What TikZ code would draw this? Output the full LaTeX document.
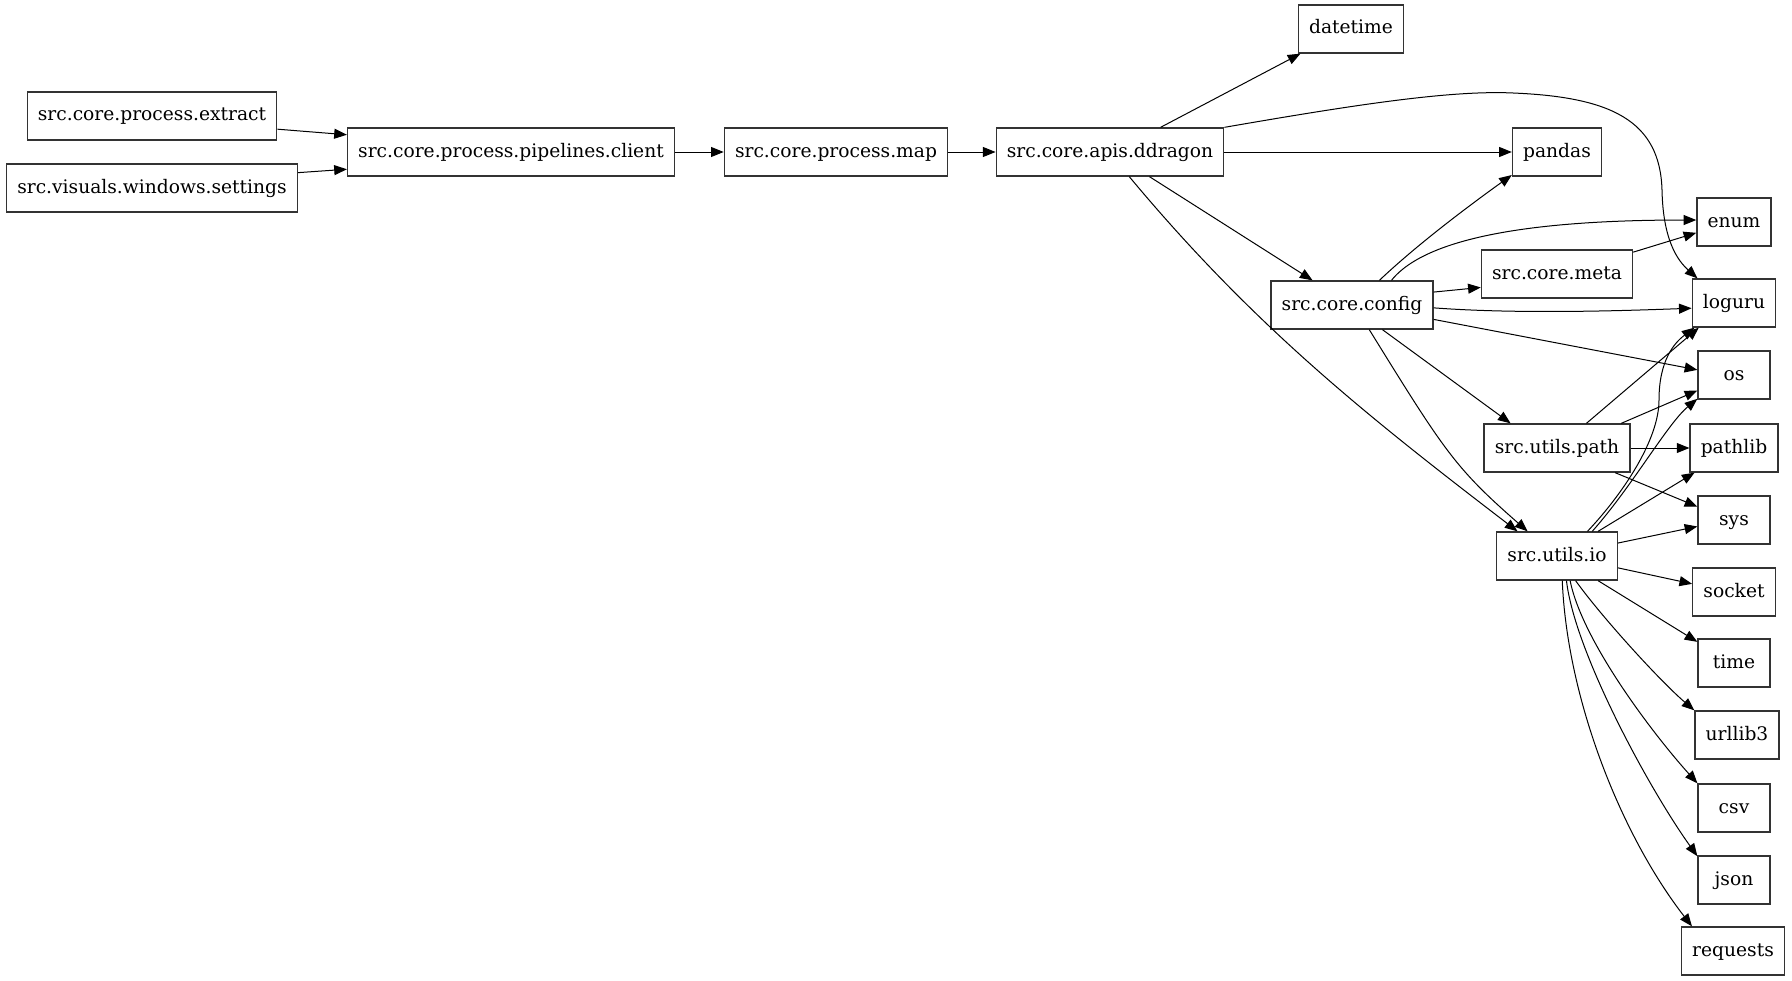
\documentclass[tikz,border=0pt]{standalone}
\usepackage{fontspec}
\setmainfont{DejaVu Serif}
\usetikzlibrary{arrows.meta}

\begin{document}
\begin{tikzpicture}[x=0.75pt,y=-0.75pt,
            mod/.style={draw=black!80, line width=1pt, minimum height=36pt, minimum width=54pt,
                inner xsep=8pt, inner ysep=0pt, text height=10pt, text depth=2.5pt,
                font=\fontsize{14pt}{17pt}\selectfont},
            dep/.style={-{Triangle[length=9.5pt,width=7.5pt]}, line width=0.75pt}]
            \useasboundingbox (0,0) rectangle (1792,981);

            \node[mod] (extract) at (152,116) {src.core.process.extract};
            \node[mod] (settings) at (152,188) {src.visuals.windows.settings};
            \node[mod] (client) at (511,152) {src.core.process.pipelines.client};
            \node[mod] (pmap) at (836,152) {src.core.process.map};
            \node[mod] (ddragon) at (1110,152) {src.core.apis.ddragon};
            \node[mod] (datetime) at (1351,29) {datetime};
            \node[mod] (pandas) at (1557,152) {pandas};
            \node[mod] (config) at (1352,305) {src.core.config};
            \node[mod] (meta) at (1557,274) {src.core.meta};
            \node[mod] (upath) at (1557,448) {src.utils.path};
            \node[mod] (uio) at (1557,556) {src.utils.io};
            \node[mod] (enum) at (1734,222) {enum};
            \node[mod] (loguru) at (1734,303) {loguru};
            \node[mod] (os) at (1734,375) {os};
            \node[mod] (pathlib) at (1734,448) {pathlib};
            \node[mod] (sys) at (1734,520) {sys};
            \node[mod] (socket) at (1734,592) {socket};
            \node[mod] (time) at (1734,663) {time};
            \node[mod] (urllib) at (1737,735) {urllib3};
            \node[mod] (csv) at (1734,808) {csv};
            \node[mod] (json) at (1734,880) {json};
            \node[mod] (requests) at (1733,951) {requests};

            \coordinate (dl1) at (1513,93);
            \coordinate (dl2) at (1662,190);
            \coordinate (il1) at (1659,400);

            \draw[dep] (extract.-6) -- (client.174);
            \draw[dep] (settings.6) -- (client.186);
            \draw[dep] (client) -- (pmap);
            \draw[dep] (pmap) -- (ddragon);

            \draw[dep] (ddragon.26) -- (datetime.206);
            \draw[dep] (ddragon.north east) .. controls +(127,-22) and +(-63,-3) .. (dl1)
                .. controls +(97,4) and +(-2,-70) .. (dl2)
                .. controls +(1,50) and +(-20,-18) .. (loguru.146);
            \draw[dep] (ddragon) -- (pandas);
            \draw[dep] (ddragon.-32) -- (config.148);
            \draw[dep] (ddragon.-52) .. controls +(125,150) and +(-150,-115) .. (uio.148);

            \draw[dep] (config.42) .. controls +(40,-38) and +(-35,25) .. (pandas.207);
            \draw[dep] (config.32) .. controls +(40,-50) and +(-130,0) .. (enum.177);
            \draw[dep] (config.9) -- (meta.190);
            \draw[dep] (config.-2) .. controls +(80,6) and +(-80,3) .. (loguru.187);
            \draw[dep] (config.-10) -- (os.172);
            \draw[dep] (config.-39) -- (upath.152);
            \draw[dep] (config.-55) .. controls +(76,123) and +(-72,-63) .. (uio.140);

            \draw[dep] (meta.16) -- (enum.196);

            \draw[dep] (upath.40) -- (loguru.215);
            \draw[dep] (upath.21) -- (os.203);
            \draw[dep] (upath) -- (pathlib);
            \draw[dep] (upath.-23) -- (sys.160);

            \draw[dep] (uio.39) .. controls +(35,-37) and +(0,40) .. (il1)
                .. controls +(0,-40) and +(-20,15) .. (loguru.212);
            \draw[dep] (uio.35) .. controls +(40,-45) and +(-30,25) .. (os.213);
            \draw[dep] (uio.31) -- (pathlib.212);
            \draw[dep] (uio.12) -- (sys.190);
            \draw[dep] (uio.-11) -- (socket.169);
            \draw[dep] (uio.-31) -- (time.150);
            \draw[dep] (uio.-53) .. controls +(25,35) and +(-35,-30) .. (urllib.150);
            \draw[dep] (uio.-62) .. controls +(12,60) and +(-45,-50) .. (csv.146);
            \draw[dep] (uio.-69) .. controls +(8,70) and +(-50,-70) .. (json.147);
            \draw[dep] (uio.-78) .. controls +(5,120) and +(-70,-90) .. (requests.149);
        \end{tikzpicture}
\end{document}
